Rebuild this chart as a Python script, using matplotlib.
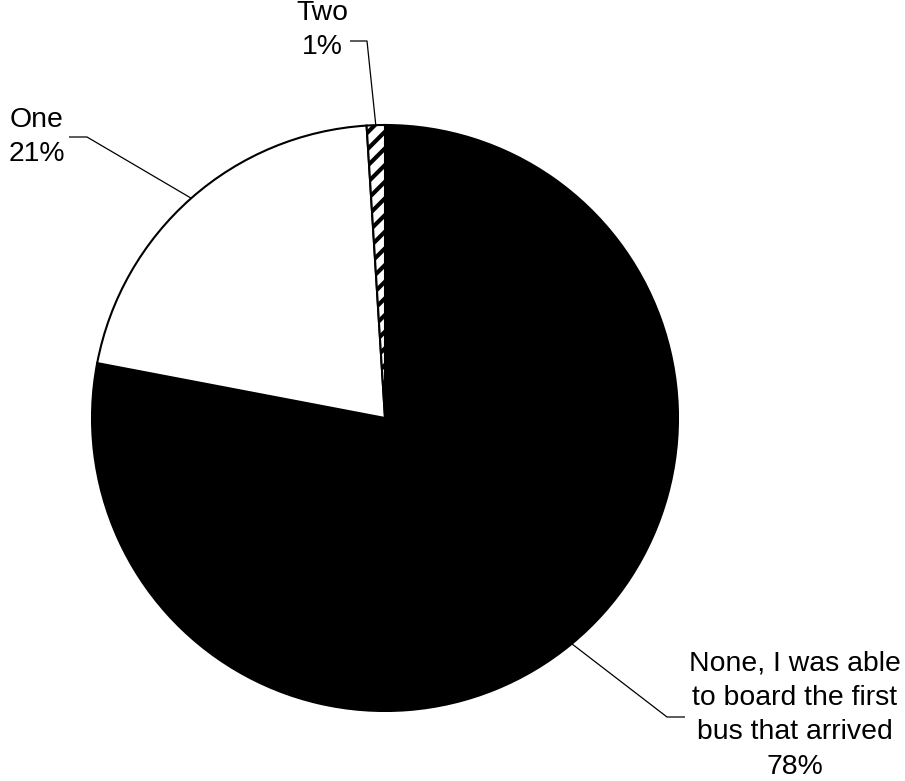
import numpy as np
import matplotlib.pyplot as plt

plt.rcParams['font.family'] = ['Liberation Sans', 'DejaVu Sans']
plt.rcParams['hatch.linewidth'] = 3.0

labels = ['None, I was able\nto board the first\nbus that arrived', 'One', 'Two']
values = [78, 21, 1]
colors = ['black', 'white', 'white']
hatches = [None, None, '//']

W, H = 905, 781
cx, cy, r = 385, H - 418, 293

# label block centres and leader elbows (pixel coords, y up)
label_xy = [(795, H - 715), (37, H - 137), (322, H - 30)]
elbow_xy = [[(667, H - 717), (685, H - 717)],
            [(87, H - 137), (69, H - 137)],
            [(367, H - 41), (350, H - 41)]]

fig = plt.figure(figsize=(W / 100, H / 100), dpi=100)
ax = fig.add_axes([0, 0, 1, 1])

wedges, _ = ax.pie(values, colors=colors, startangle=90, counterclock=False,
                   center=(cx, cy), radius=r, frame=True,
                   wedgeprops=dict(edgecolor='black', linewidth=1.5))
for w, h in zip(wedges, hatches):
    if h:
        w.set_hatch(h)
ax.set_xlim(0, W)
ax.set_ylim(0, H)
ax.set_aspect('equal')
ax.axis('off')

total = sum(values)
start = 0.0
for lab, v, (tx, ty), elbow in zip(labels, values, label_xy, elbow_xy):
    mid = np.deg2rad(start + 360 * v / total / 2)
    start += 360 * v / total
    px, py = cx + r * np.sin(mid), cy + r * np.cos(mid)
    xs = [px] + [p[0] for p in elbow]
    ys = [py] + [p[1] for p in elbow]
    ax.plot(xs, ys, color='black', lw=0.9, solid_capstyle='butt')
    ax.text(tx, ty, f'{lab}\n{v}%', ha='center', va='center',
            fontsize=20.4, linespacing=1.42, multialignment='center')

fig.savefig('out.png', dpi=100)
